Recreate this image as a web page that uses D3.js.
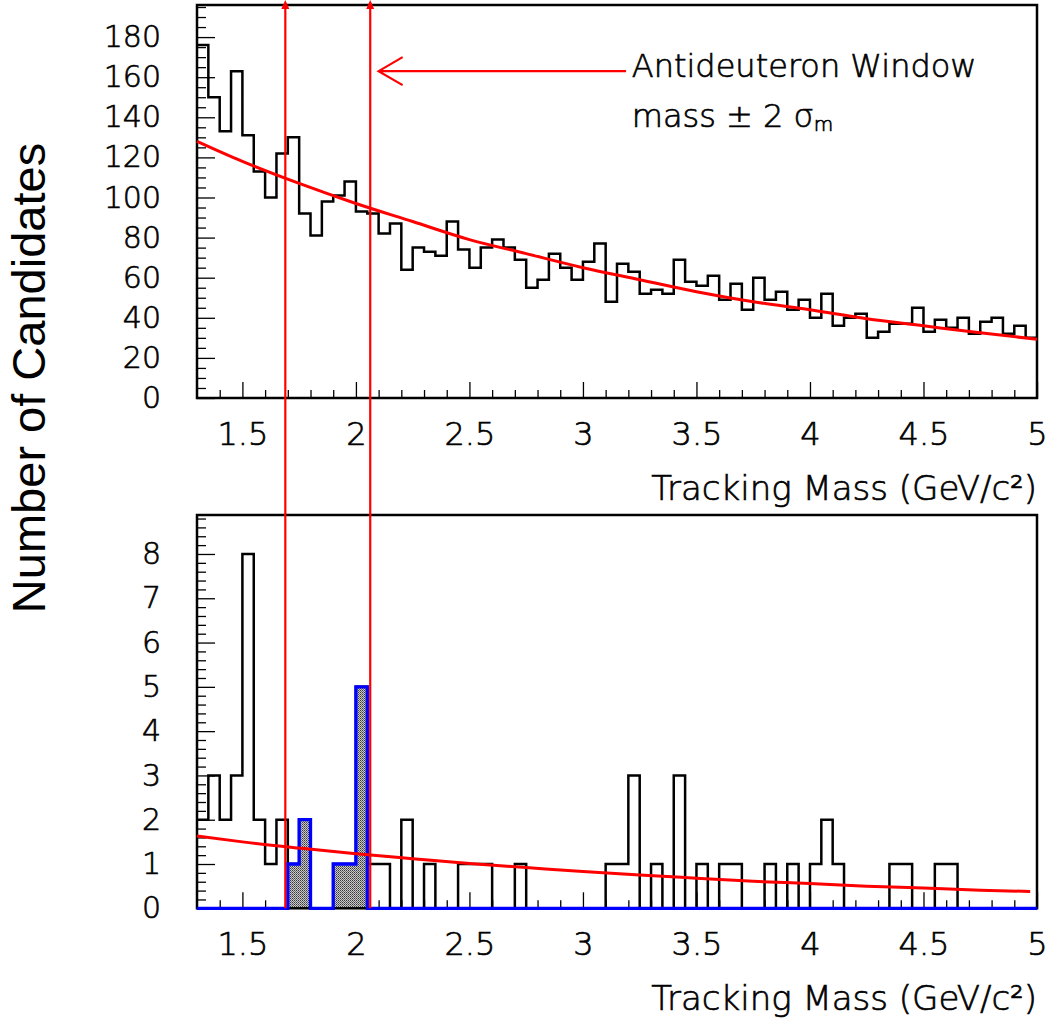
<!DOCTYPE html>
<html>
<head>
<meta charset="utf-8">
<script src="https://cdn.jsdelivr.net/npm/d3@7"></script>
<style>
  body { margin: 0; background: #fff; }
  svg { display: block; }
  .paw { font-family: 'DejaVu Sans', sans-serif; font-weight: 200; stroke: #000; stroke-width: 0.65px; }
</style>
</head>
<body>
<svg id="chart" width="1053" height="1026"></svg>
<script>
// histogram binning (GeV/c^2)
var binStart = 1.3;
var binWidth = 0.05;

// upper panel: all candidates per bin
var topCounts = [176,150,133,163,131,113,100,122,130,92,81,98,101,108,93,92,82,87,64,75,
  73,71,88,74,65,75,79,75,69,55,59,72,65,59,68,77,48,67,63,52,
  54,52,69,58,56,61,49,57,44,60,49,53,44,49,40,52,36,40,42,30,
  33,37,37,45,33,39,35,40,32,38,40,32,36,30];

// lower panel: candidates after cuts
var botCounts = [2,3,2,3,8,2,1,2,1,2,0,0,1,1,5,1,1,0,2,0,
  1,0,0,1,1,1,0,0,1,0,0,0,0,0,0,0,1,1,3,0,
  1,0,3,0,1,0,1,1,0,0,1,0,1,0,1,2,1,0,0,0,
  0,1,1,0,0,1,1,0,0,0,0,0,0,0];

// lower panel: selected candidates (blue, shaded)
var selCounts = [0,0,0,0,0,0,0,0,1,2,0,0,1,1,5,0,0,0,0,0,
  0,0,0,0,0,0,0,0,0,0,0,0,0,0,0,0,0,0,0,0,
  0,0,0,0,0,0,0,0,0,0,0,0,0,0,0,0,0,0,0,0,
  0,0,0,0,0,0,0,0,0,0,0,0,0,0];

// background fit curves
var fitX   = [1.3, 1.5, 1.75, 2.0, 2.25, 2.5, 2.75, 3.0, 3.25, 3.5, 3.75, 4.0, 4.25, 4.5, 4.75, 5.0];
var fitTop = [128, 118, 107, 97, 88, 79, 72, 65, 59, 53, 48, 44, 39.5, 36, 32.5, 29.3];
var fitBotX = [1.3, 1.5, 1.75, 2.0, 2.25, 2.5, 2.75, 3.0, 3.25, 3.5, 3.75, 4.0, 4.25, 4.5, 4.75, 4.97];
var fitBot = [1.63, 1.50, 1.36, 1.23, 1.12, 1.01, 0.92, 0.83, 0.75, 0.68, 0.61, 0.56, 0.50, 0.46, 0.41, 0.38];

// antideuteron mass window (mass +- 2 sigma)
var windowEdges = [1.689, 2.063];

var xMajor = [1.5, 2, 2.5, 3, 3.5, 4, 4.5, 5];
var topMajor = [0, 20, 40, 60, 80, 100, 120, 140, 160, 180];
var botMajor = [0, 1, 2, 3, 4, 5, 6, 7, 8];

var svg = d3.select("#chart");

var x = d3.scaleLinear().domain([1.3, 5]).range([197, 1037]);
var yTop = d3.scaleLinear().domain([0, 196]).range([398, 5]);
var yBot = d3.scaleLinear().domain([0, 8.88]).range([908.3, 515]);

var xMinor = d3.range(14, 51).map(d => d / 10).filter(d => xMajor.indexOf(d) < 0);

function steps(counts) {
  var pts = [];
  counts.forEach(function(c, i) {
    var x0 = binStart + i * binWidth;
    pts.push([x0, c], [x0 + binWidth, c]);
  });
  return pts;
}

// fill pattern for the selected bins
var defs = svg.append("defs");
var pat = defs.append("pattern")
  .attr("id", "dots")
  .attr("width", 2).attr("height", 2)
  .attr("patternUnits", "userSpaceOnUse");
pat.append("rect").attr("width", 2).attr("height", 2).attr("fill", "#c8c8c8");
pat.append("rect").attr("width", 1).attr("height", 1).attr("fill", "#3a3a3a");
pat.append("rect").attr("x", 1).attr("y", 1).attr("width", 1).attr("height", 1).attr("fill", "#6a6a6a");

function panel(y, major, yMinor, label) {
  var g = svg.append("g");
  var y0 = y.range()[0];

  var gx = g.append("g").attr("transform", `translate(0, ${y0})`)
    .call(d3.axisBottom(x).tickValues(xMinor).tickSize(-8).tickFormat(""));
  gx.select(".domain").remove();
  gx.selectAll("line").attr("stroke-width", 1.3);

  var gx2 = g.append("g").attr("transform", `translate(0, ${y0})`)
    .call(d3.axisBottom(x).tickValues(xMajor).tickSize(-16).tickPadding(24).tickFormat(d3.format("")));
  gx2.select(".domain").remove();
  gx2.selectAll("line").attr("stroke-width", 1.3);
  gx2.selectAll("text").attr("class", "paw").style("font-size", "32px");

  var gy = g.append("g").attr("transform", `translate(${x.range()[0]}, 0)`)
    .call(d3.axisLeft(y).tickValues(yMinor).tickSize(-9).tickFormat(""));
  gy.select(".domain").remove();
  gy.selectAll("line").attr("stroke-width", 1.3);

  var gy2 = g.append("g").attr("transform", `translate(${x.range()[0]}, 0)`)
    .call(d3.axisLeft(y).tickValues(major).tickSize(-18).tickPadding(36).tickFormat(d3.format("")));
  gy2.select(".domain").remove();
  gy2.selectAll("line").attr("stroke-width", 1.3);
  gy2.selectAll("text").attr("class", "paw").style("font-size", "30px");
  gx2.attr("font-family", null);
  gy2.attr("font-family", null);

  g.append("text")
    .attr("class", "paw")
    .attr("x", x.range()[1])
    .attr("y", y0 + 102)
    .attr("text-anchor", "end")
    .style("font-size", "34px")
    .text(label);
  return g;
}

panel(yTop, topMajor, d3.range(5, 196, 5).filter(d => d % 20 !== 0), "Tracking Mass (GeV/c\u00B2)");
panel(yBot, botMajor, d3.range(1, 45).map(d => d / 5).filter(d => d % 1 !== 0), "Tracking Mass (GeV/c\u00B2)");

// upper histogram
var lineTop = d3.line().x(d => x(d[0])).y(d => yTop(d[1]));
svg.append("path")
  .datum(steps(topCounts))
  .attr("fill", "none")
  .attr("stroke", "black")
  .attr("stroke-width", 2.5)
  .attr("d", lineTop);

// lower histogram
var lineBot = d3.line().x(d => x(d[0])).y(d => yBot(d[1]));
svg.append("path")
  .datum(steps(botCounts))
  .attr("fill", "none")
  .attr("stroke", "black")
  .attr("stroke-width", 2.5)
  .attr("d", lineBot);

var areaSel = d3.area().x(d => x(d[0])).y0(yBot(0)).y1(d => yBot(d[1]));
svg.append("path")
  .datum(steps(selCounts))
  .attr("fill", "url(#dots)")
  .attr("d", areaSel);

// frames
[yTop, yBot].forEach(function(y) {
  svg.append("rect")
    .attr("x", x.range()[0])
    .attr("y", y.range()[1])
    .attr("width", x.range()[1] - x.range()[0])
    .attr("height", y.range()[0] - y.range()[1])
    .attr("fill", "none")
    .attr("stroke", "black")
    .attr("stroke-width", 2.5);
});

svg.append("path")
  .datum(steps(selCounts))
  .attr("fill", "none")
  .attr("stroke", "#0000ff")
  .attr("stroke-width", 3.3)
  .attr("d", lineBot);

// fits
svg.append("path")
  .datum(fitX.map((d, i) => [d, fitTop[i]]))
  .attr("fill", "none")
  .attr("stroke", "#ff0000")
  .attr("stroke-width", 3)
  .attr("d", lineTop.curve(d3.curveMonotoneX));

svg.append("path")
  .datum(fitBotX.map((d, i) => [d, fitBot[i]]))
  .attr("fill", "none")
  .attr("stroke", "#ff0000")
  .attr("stroke-width", 3)
  .attr("d", lineBot.curve(d3.curveMonotoneX));

// mass window lines with arrow heads at the top
var lineTopY = yTop(198.5);
windowEdges.forEach(function(m) {
  svg.append("line")
    .attr("x1", x(m)).attr("x2", x(m))
    .attr("y1", lineTopY + 3).attr("y2", yBot(0))
    .attr("stroke", "#ff0000")
    .attr("stroke-width", 2.2);
  svg.append("path")
    .attr("d", `M${x(m)},${lineTopY} l-4,9 l8,0 z`)
    .attr("fill", "#ff0000");
});

// annotation arrow
var tipX = x(2.1), tipY = yTop(163);
svg.append("path")
  .attr("d", `M${x(3.19)},${tipY} L${tipX},${tipY} M${tipX + 24},${tipY - 14} L${tipX},${tipY} L${tipX + 24},${tipY + 14}`)
  .attr("fill", "none")
  .attr("stroke", "#ff0000")
  .attr("stroke-width", 2.2);

svg.append("text")
  .attr("class", "paw")
  .attr("x", x(3.215)).attr("y", yTop(160.3))
  .style("font-size", "32px")
  .text("Antideuteron Window");

var t2 = svg.append("text")
  .attr("class", "paw")
  .attr("x", x(3.215)).attr("y", yTop(135))
  .style("font-size", "32px");
t2.append("tspan").text("mass \u00B1 2 \u03C3");
t2.append("tspan").attr("dy", 4).style("font-size", "20px").text("m");

// shared y title
svg.append("text")
  .attr("transform", "translate(45, 378) rotate(-90)")
  .attr("text-anchor", "middle")
  .style("font-family", "'Liberation Sans', Arial, sans-serif")
  .style("font-size", "47px")
  .text("Number of Candidates");
</script>
</body>
</html>
